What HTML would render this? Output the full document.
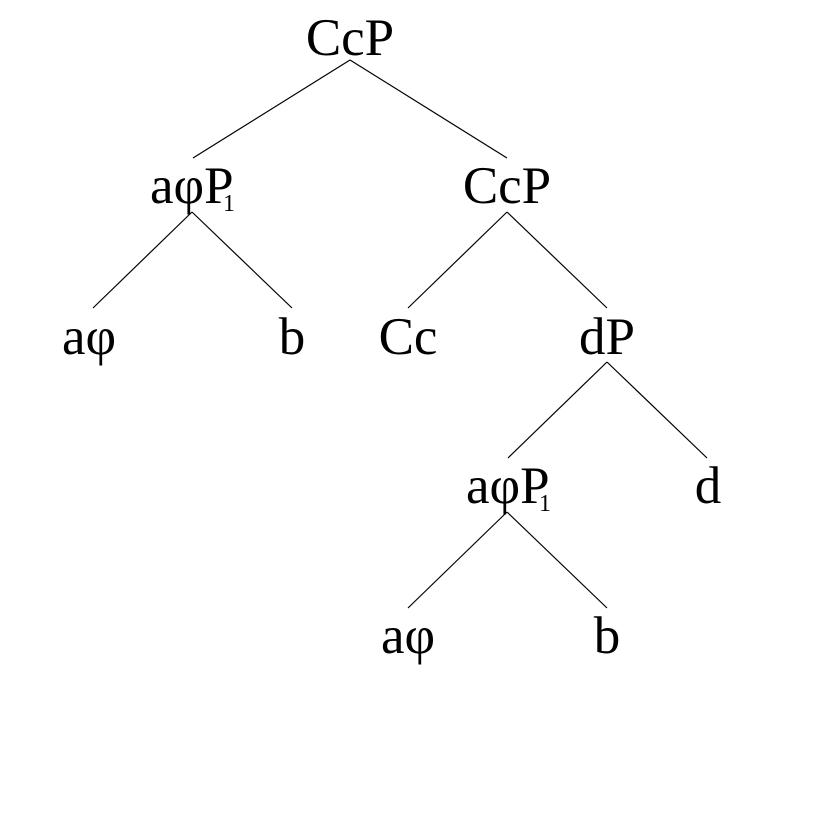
<!DOCTYPE html>
<html><head><style>
html,body{margin:0;padding:0;background:#fff;}
svg{display:block;}
svg text{font-family:"Liberation Serif","Times New Roman",Times,serif;font-size:53px;fill:#000;}
svg text.s{font-size:24px;}
</style></head><body>
<svg width="836" height="820" viewBox="0 0 836 820" xmlns="http://www.w3.org/2000/svg" font-family="Liberation Serif, serif">
<g stroke="#000" stroke-width="1.2" fill="none">
<line x1="350" y1="60" x2="193" y2="158"/>
<line x1="350" y1="60" x2="507" y2="158"/>
<line x1="192" y1="212" x2="93" y2="308"/>
<line x1="192" y1="212" x2="292" y2="308"/>
<line x1="507" y1="212" x2="408" y2="308"/>
<line x1="507" y1="212" x2="607" y2="308"/>
<line x1="607" y1="362" x2="508" y2="458"/>
<line x1="607" y1="362" x2="707" y2="458"/>
<line x1="507" y1="512" x2="408" y2="608"/>
<line x1="507" y1="512" x2="607" y2="608"/>
</g>
<text x="350" y="55" text-anchor="middle">CcP</text>
<text x="150" y="203">aφP</text><text class="s" x="223" y="211">1</text>
<text x="507" y="203" text-anchor="middle">CcP</text>
<text x="89" y="354" text-anchor="middle">aφ</text>
<text x="292" y="354" text-anchor="middle">b</text>
<text x="408" y="354" text-anchor="middle">Cc</text>
<text x="607" y="354" text-anchor="middle">dP</text>
<text x="466" y="503">aφP</text><text class="s" x="539" y="511">1</text>
<text x="708" y="503" text-anchor="middle">d</text>
<text x="408" y="653" text-anchor="middle">aφ</text>
<text x="607" y="653" text-anchor="middle">b</text>
</svg>
</body></html>
